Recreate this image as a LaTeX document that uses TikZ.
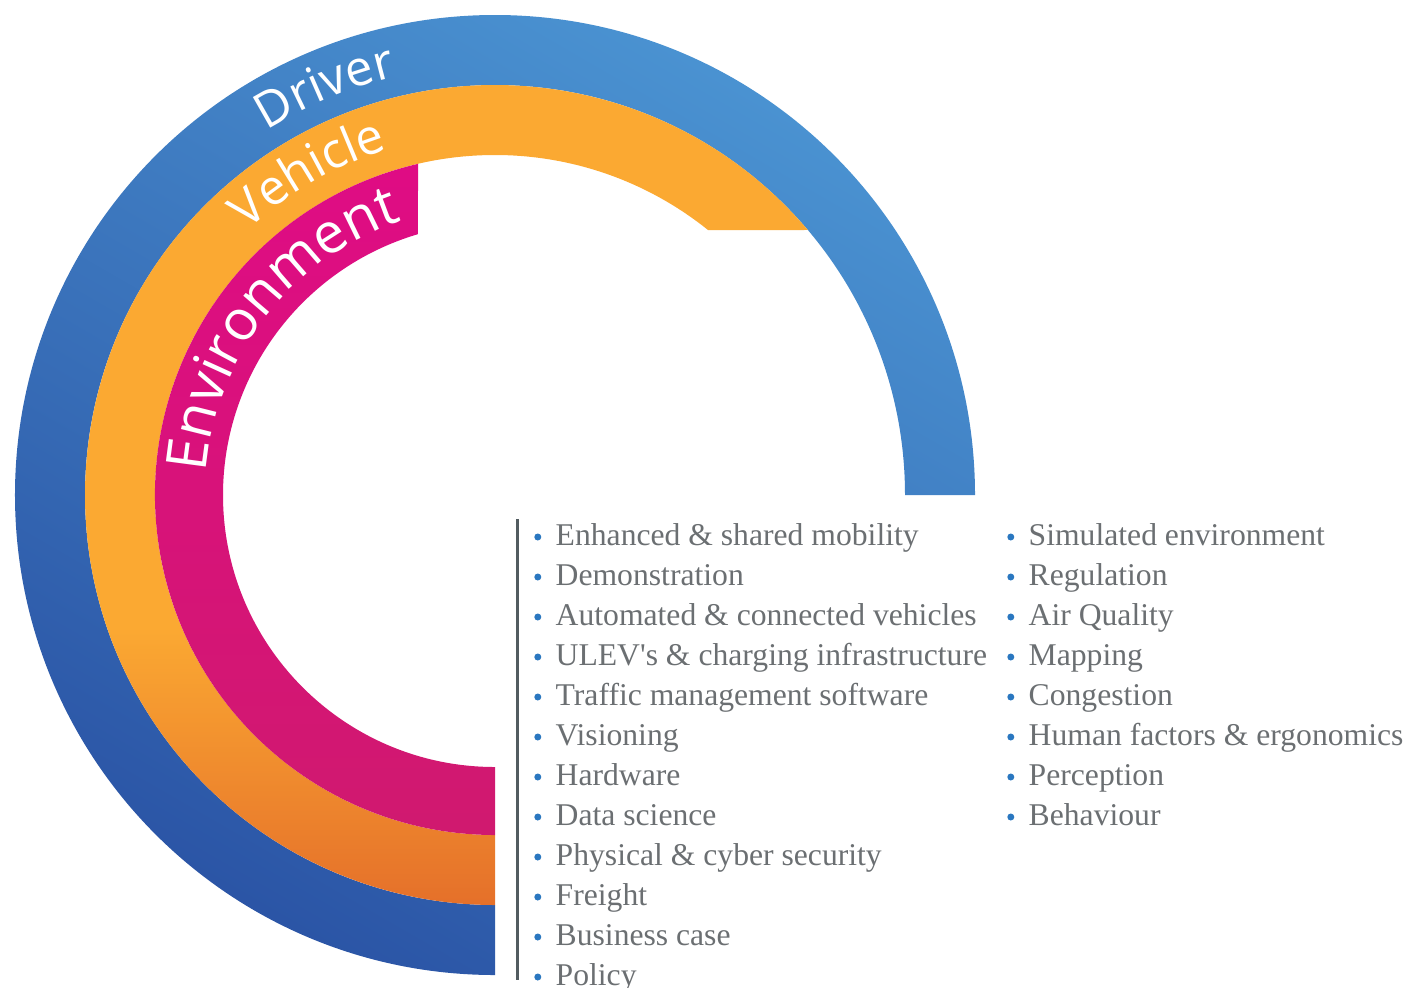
\documentclass[tikz,border=0pt]{standalone}
\usepackage{fontspec}
\newfontfamily\ringfont{Open Sans}
\newfontfamily\listfont{Liberation Serif}
\usetikzlibrary{decorations.text}
\definecolor{drvblue}{HTML}{4A92D1}
\definecolor{drvbluedk}{HTML}{2B55A6}
\definecolor{vehorange}{HTML}{FBA932}
\definecolor{vehorangedk}{HTML}{E5702A}
\definecolor{envpink}{HTML}{DF0C84}
\definecolor{envpinkdk}{HTML}{D0196F}
\definecolor{listgray}{HTML}{6B6F72}
\definecolor{rulegray}{HTML}{525C60}
\definecolor{dotblue}{HTML}{2A77C0}
% orange stays flat until low on the ring, then darkens
\pgfdeclareverticalshading{vehshade}{100bp}{color(0bp)=(vehorangedk);
  color(25bp)=(vehorangedk); color(41bp)=(vehorange); color(100bp)=(vehorange)}
\tikzset{
  ringlabel/.style 2 args={decorate,decoration={text along path,
      text={|\ringfont\fontsize{#1}{#1}\selectfont\color{white}|#2}}},
  bulletdot/.style={circle,fill=dotblue,inner sep=0pt,minimum size=0.07cm},
  itemtxt/.style={anchor=base west,inner sep=0pt,text=listgray,
      font=\listfont\fontsize{9pt}{11pt}\selectfont,text height=0.23cm,text depth=0.07cm,
      label={[bulletdot,label distance=0.13cm]left:{}}},
  divider/.style={draw=rulegray,line width=0.03cm},
}

\begin{document}
\begin{tikzpicture}[x=0.01cm,y=0.01cm]
  \useasboundingbox (-495,-492) rectangle (909,495);
  % ---- three rings, all centred on the origin ----
  \shade[top color=drvblue,bottom color=drvbluedk,shading angle=-30]
    (0:480) arc[start angle=0,end angle=270,radius=480]
    -- (270:410) arc[start angle=270,end angle=0,radius=410] -- cycle;
  % the orange ring stops on a horizontal cut at the top right
  \shade[shading=vehshade]
    (40.27:410) arc[start angle=40.27,end angle=270,radius=410]
    -- (270:340) arc[start angle=270,end angle=51.2,radius=340] -- cycle;
  % the pink ring stops on a vertical cut
  \shade[top color=envpink,bottom color=envpinkdk]
    (103.09:340) arc[start angle=103.09,end angle=270,radius=340]
    -- (270:272) arc[start angle=270,end angle=106.45,radius=272] -- cycle;
  % ring names follow the arcs
  \path[ringlabel={14pt}{Driver}] (122:430) arc[start angle=122,end angle=80,radius=430];
  \path[ringlabel={14pt}{Vehicle}] (133:362) arc[start angle=133,end angle=85,radius=362];
  \path[ringlabel={16pt}{Environment}] (175.5:290) arc[start angle=175.5,end angle=90,radius=290];
  % ---- topic lists ----
  \draw[divider] (22,-24) -- (22,-485);
  \node[itemtxt] (mob)     at (60,-50)  {Enhanced \& shared mobility};
  \node[itemtxt] (demo)    at (60,-90)  {Demonstration};
  \node[itemtxt] (cav)     at (60,-130) {Automated \& connected vehicles};
  \node[itemtxt] (ulev)    at (60,-170) {ULEV\textquotesingle s \& charging infrastructure};
  \node[itemtxt] (traffic) at (60,-210) {Traffic management software};
  \node[itemtxt] (vision)  at (60,-250) {Visioning};
  \node[itemtxt] (hw)      at (60,-290) {Hardware};
  \node[itemtxt] (data)    at (60,-330) {Data science};
  \node[itemtxt] (sec)     at (60,-370) {Physical \& cyber security};
  \node[itemtxt] (freight) at (60,-410) {Freight};
  \node[itemtxt] (biz)     at (60,-450) {Business case};
  \node[itemtxt] (policy)  at (60,-490) {Policy};
  \node[itemtxt] (sim)     at (533,-50)  {Simulated environment};
  \node[itemtxt] (reg)     at (533,-90)  {Regulation};
  \node[itemtxt] (air)     at (533,-130) {Air Quality};
  \node[itemtxt] (map)     at (533,-170) {Mapping};
  \node[itemtxt] (cong)    at (533,-210) {Congestion};
  \node[itemtxt] (hf)      at (533,-250) {Human factors \& ergonomics};
  \node[itemtxt] (perc)    at (533,-290) {Perception};
  \node[itemtxt] (behav)   at (533,-330) {Behaviour};
\end{tikzpicture}
\end{document}
